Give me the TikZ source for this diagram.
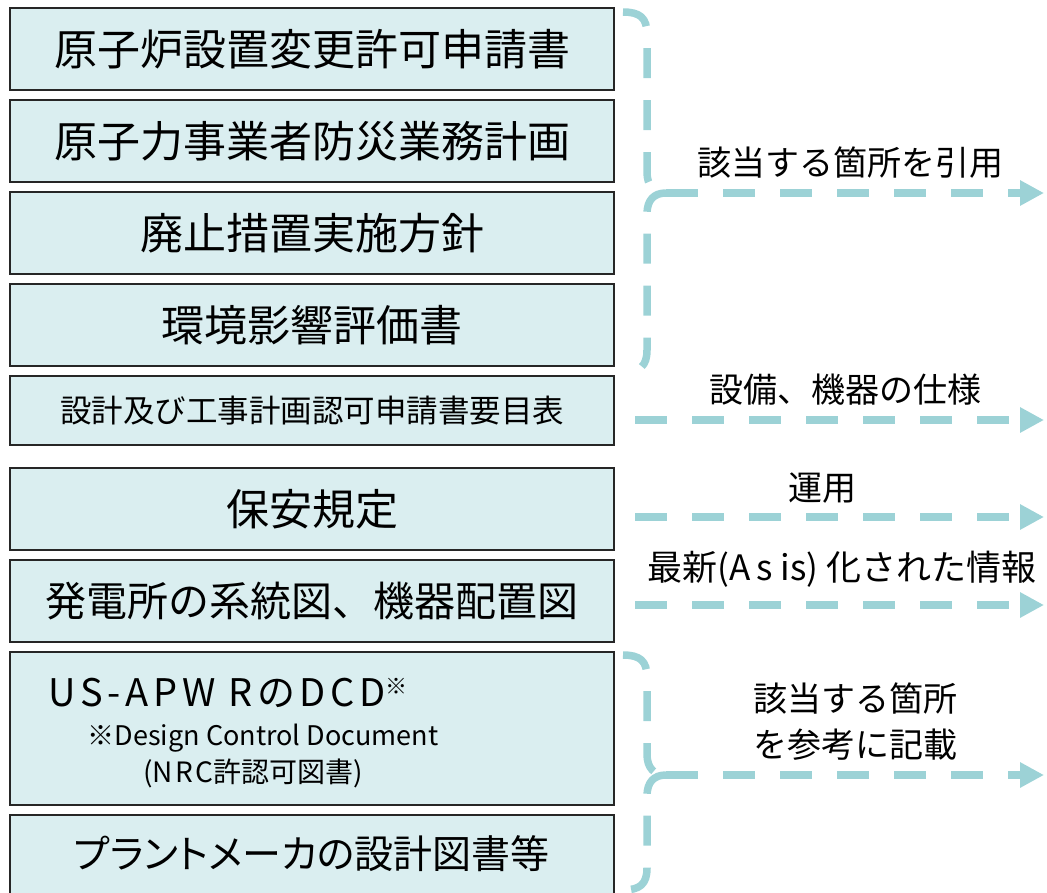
\documentclass[tikz,border=0pt]{standalone}
\usepackage{fontspec}
\setmainfont{Noto Sans CJK JP}
\usetikzlibrary{arrows.meta}
\definecolor{boxfill}{RGB}{218,238,240}
\definecolor{flowcol}{RGB}{156,210,214}
\tikzset{
  docbox/.style={draw=black!85, line width=1.3pt, fill=boxfill, inner sep=0pt,
    minimum width=604pt, align=center},
  flow/.style={draw=flowcol, line width=8pt, dash pattern=on 32pt off 25pt,
    -{Triangle[length=24pt,width=24pt]}},
  brace/.style={draw=flowcol, line width=7.5pt, dash pattern=on 30pt off 22pt},
  lbl/.style={inner sep=0pt, align=center, font=\fontsize{34}{46}\selectfont},
}
\newcommand{\fsz}[1]{\fontsize{#1}{#1}\selectfont}
\begin{document}
\begin{tikzpicture}[x=1pt,y=-1pt]
    \clip (0,0) rectangle (1047,892);

    % documents
    \node[docbox, minimum height=82pt, font=\fsz{43}] (kyoka) at (312,49) {原子炉設置変更許可申請書};
    \node[docbox, minimum height=82pt, font=\fsz{43}] (bousai) at (312,141) {原子力事業者防災業務計画};
    \node[docbox, minimum height=82pt, font=\fsz{43}] (haishi) at (312,233) {廃止措置実施方針};
    \node[docbox, minimum height=82pt, font=\fsz{43}] (kankyo) at (312,325) {環境影響評価書};
    \node[docbox, minimum height=69pt, font=\fsz{31.5}] (youmoku) at (312,410.5) {設計及び工事計画認可申請書要目表};
    \node[docbox, minimum height=82pt, font=\fsz{43}] (hoan) at (312,509) {保安規定};
    \node[docbox, minimum height=82pt, font=\fsz{41}] (keitou) at (312,601) {発電所の系統図、機器配置図};
    \node[docbox, minimum height=153pt] (dcd) at (312,728.5) {};
    \node[docbox, minimum height=100pt, font=\fsz{39}\addfontfeature{CharacterWidth=AlternateProportional}] (maker) at (312,865) {\raisebox{0pt}[0pt][0pt]{\raisebox{-3pt}{プラントメーカの設計図書等}}};

    % DCD box texts
    \node[inner sep=0pt, font=\fsz{38}\addfontfeature{LetterSpace=12}] (dcdname) at (228,693)
        {US-APW RのDCD\raisebox{12pt}{\fsz{22}※}};
    \node[inner sep=0pt, font=\fsz{27}] (dcdnote) at (263,738) {※Design Control Document};
    \node[inner sep=0pt, font=\fsz{28}] (dcdnrc) at (253,773)
        {({\addfontfeature{LetterSpace=8}NRC}許認可図書)};

    % braces and flows
    \coordinate (tipA) at (666,193);
    \coordinate (endA) at (1044,193);
    \coordinate (startB) at (635,420);
    \coordinate (endB) at (1044,420);
    \coordinate (startC) at (635,517);
    \coordinate (endC) at (1044,517);
    \coordinate (startD) at (635,605);
    \coordinate (endD) at (1044,605);
    \coordinate (tipE) at (666,775);
    \coordinate (endE) at (1044,775);

    \draw[brace] (623,12) .. controls (640,12) and (647,18) .. (647,34) -- (647,172)
        .. controls (647,186) and (654,193) .. (tipA);
    \draw[brace] (tipA) .. controls (654,193) and (647,200) .. (647,214) -- (647,350)
        .. controls (647,366) and (640,372) .. (623,372);
    \draw[brace] (623,655) .. controls (640,655) and (647,661) .. (647,677) -- (647,754)
        .. controls (647,768) and (654,775) .. (tipE);
    \draw[brace] (tipE) .. controls (654,775) and (647,782) .. (647,796) -- (647,868)
        .. controls (647,884) and (640,890) .. (623,890);

    \draw[flow] (tipA) -- (endA);
    \draw[flow] (startB) -- (endB);
    \draw[flow] (startC) -- (endC);
    \draw[flow] (startD) -- (endD);
    \draw[flow] (tipE) -- (endE);

    % labels
    \node[lbl] (citeLbl) at (850,163) {該当する箇所を引用};
    \node[lbl] (specLbl) at (845,390) {設備、機器の仕様};
    \node[lbl] (opLbl) at (822,488) {運用};
    \node[lbl, font=\fsz{35}] (asisLbl) at (842,569) {最新({\addfontfeature{LetterSpace=15}As} is) 化された情報};
    \node[lbl] (refLbl) at (855,722) {該当する箇所\\を参考に記載};
\end{tikzpicture}
\end{document}
